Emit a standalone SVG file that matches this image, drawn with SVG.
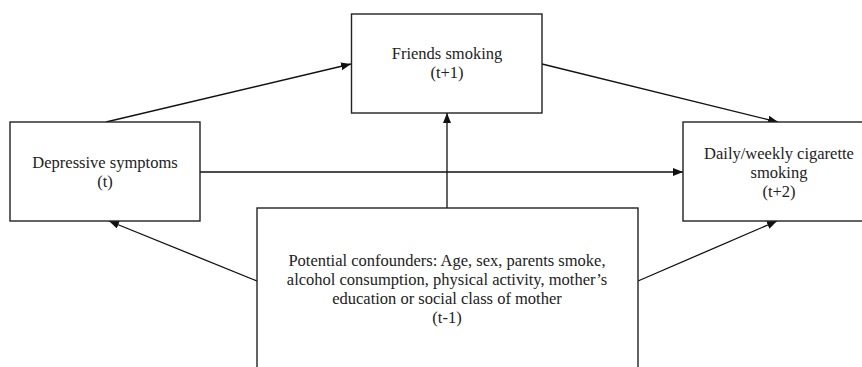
<svg xmlns="http://www.w3.org/2000/svg" width="862" height="367" viewBox="0 0 862 367">
<style>
.box{fill:#fff;stroke:#222;stroke-width:1.4}
.lbl{font-family:"Liberation Serif","Times New Roman",serif;font-size:16.5px;fill:#222;text-anchor:middle}
.edge{stroke:#111;stroke-width:1.3;fill:none;marker-end:url(#arr)}
</style>
<defs>
<marker id="arr" viewBox="0 0 10 8" refX="10" refY="4" markerWidth="10" markerHeight="8" markerUnits="userSpaceOnUse" orient="auto">
<path d="M0,0 L10,4 L0,8 Z" fill="#111"/>
</marker>
</defs>
<rect width="862" height="367" fill="#fff"/>
<g id="connectors">
<line class="edge" x1="106" y1="122" x2="351" y2="64"/>
<line class="edge" x1="542" y1="64" x2="778" y2="122"/>
<line class="edge" x1="200" y1="172" x2="683" y2="172"/>
<line class="edge" x1="447" y1="208" x2="447" y2="113"/>
<line class="edge" x1="257" y1="281" x2="109" y2="221"/>
<line class="edge" x1="638" y1="281" x2="777" y2="221"/>
</g>
<g id="friends">
<rect class="box" x="351.5" y="14" width="190.5" height="99"/>
<text class="lbl" x="447" y="59">Friends smoking</text>
<text class="lbl" x="447" y="78">(t+1)</text>
</g>
<g id="depressive">
<rect class="box" x="10" y="122" width="190" height="99"/>
<text class="lbl" x="105" y="168">Depressive symptoms</text>
<text class="lbl" x="105" y="187">(t)</text>
</g>
<g id="daily">
<rect class="box" x="683" y="122" width="200" height="99"/>
<text class="lbl" x="779" y="159">Daily/weekly cigarette</text>
<text class="lbl" x="779" y="178">smoking</text>
<text class="lbl" x="779" y="197">(t+2)</text>
</g>
<g id="confounders">
<rect class="box" x="257" y="208" width="381" height="180"/>
<text class="lbl" x="447" y="266">Potential confounders: Age, sex, parents smoke,</text>
<text class="lbl" x="447" y="285">alcohol consumption, physical activity, mother’s</text>
<text class="lbl" x="447" y="304">education or social class of mother</text>
<text class="lbl" x="447" y="323">(t-1)</text>
</g>
</svg>
